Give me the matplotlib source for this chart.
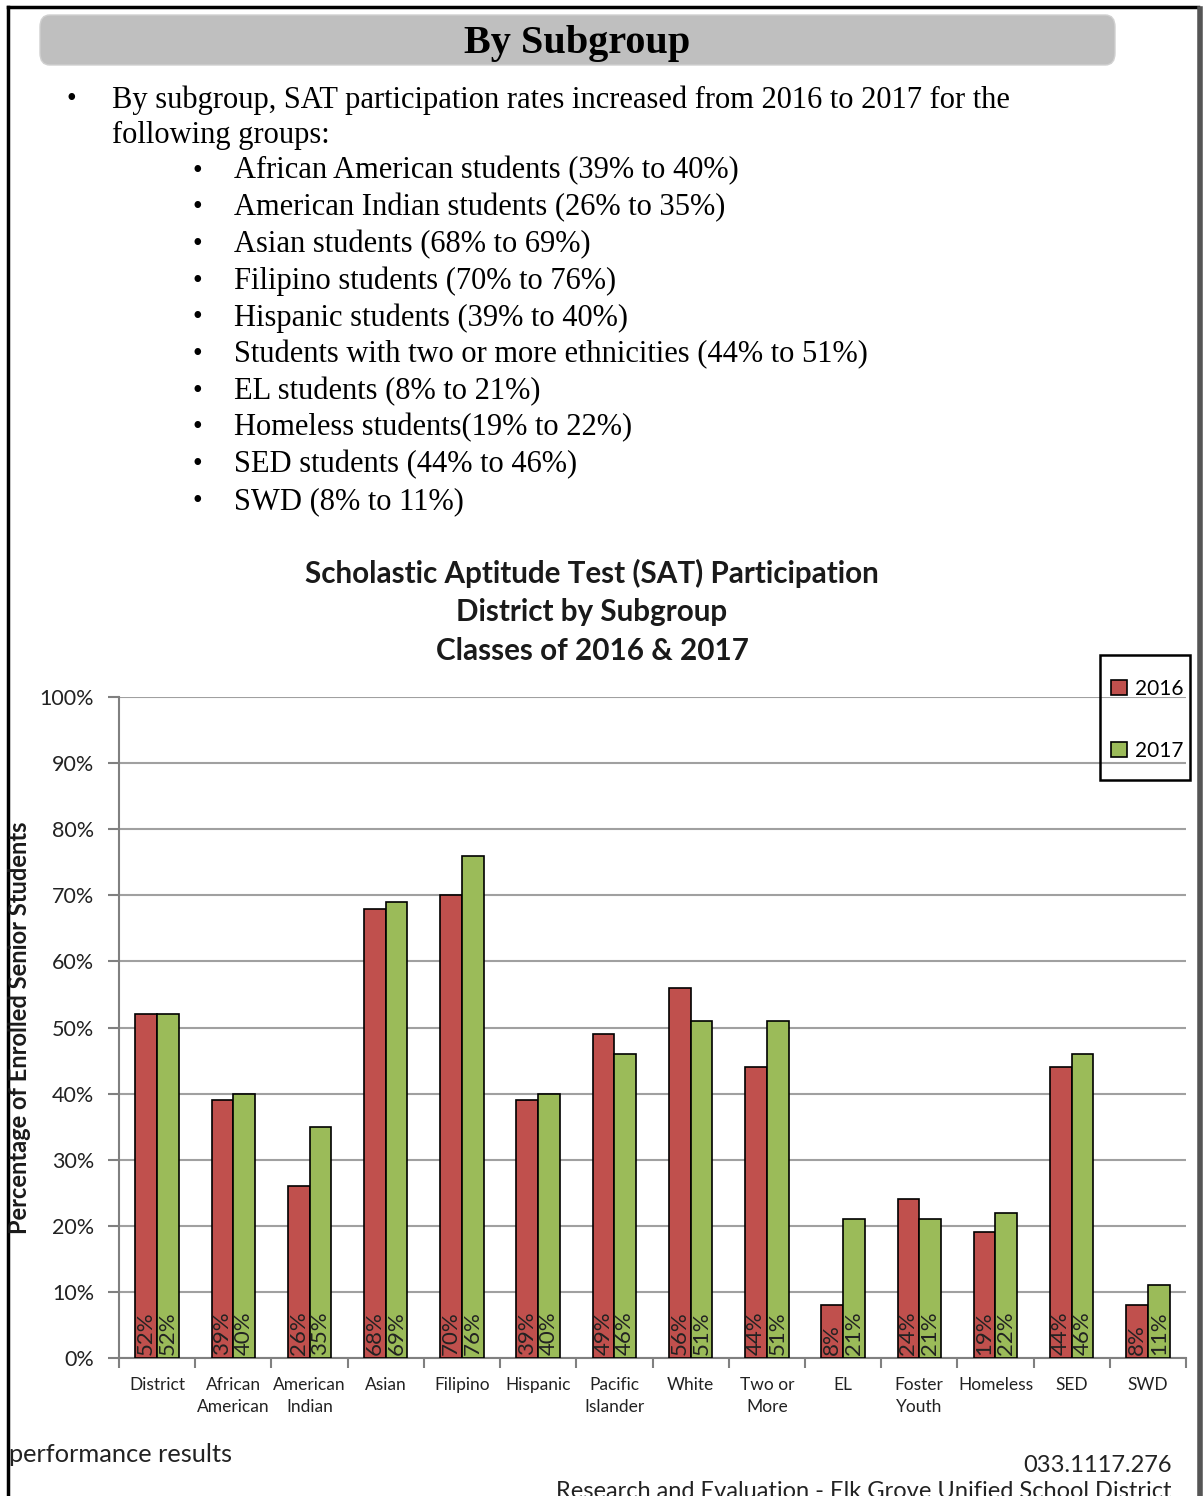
import matplotlib
matplotlib.use("Agg")
import matplotlib.pyplot as plt
from matplotlib.patches import FancyBboxPatch, Rectangle
from matplotlib.lines import Line2D
import numpy as np

W, H = 1204, 1496

categories = ["District", "African\nAmerican", "American\nIndian", "Asian", "Filipino",
              "Hispanic", "Pacific\nIslander", "White", "Two or\nMore", "EL",
              "Foster\nYouth", "Homeless", "SED", "SWD"]
rate_2016 = [52, 39, 26, 68, 70, 39, 49, 56, 44, 8, 24, 19, 44, 8]
rate_2017 = [52, 40, 35, 69, 76, 40, 46, 51, 51, 21, 21, 22, 46, 11]
years = ["2016", "2017"]

intro = ["By subgroup, SAT participation rates increased from 2016 to 2017 for the",
         "following groups:"]
bullets = ["African American students (39% to 40%)",
           "American Indian students (26% to 35%)",
           "Asian students (68% to 69%)",
           "Filipino students (70% to 76%)",
           "Hispanic students (39% to 40%)",
           "Students with two or more ethnicities (44% to 51%)",
           "EL students (8% to 21%)",
           "Homeless students(19% to 22%)",
           "SED students (44% to 46%)",
           "SWD (8% to 11%)"]
chart_title = ["Scholastic Aptitude Test (SAT) Participation",
               "District by Subgroup",
               "Classes of 2016 & 2017"]

red = "#C0504D"
green = "#9BBB59"
serif = "Liberation Serif"
sans = "Lato"


def px(x, y):
    # pixel position on the page -> figure fraction
    return x / W, 1 - y / H


fig = plt.figure(figsize=(W / 100, H / 100), dpi=100)

# page border
fig.add_artist(Line2D([8 / W, 8 / W], [0, 1 - 7 / H], color="black", lw=2.5))
fig.add_artist(Line2D([8 / W, 1198 / W], [1 - 7 / H, 1 - 7 / H], color="black", lw=2.5))
fig.add_artist(Line2D([1200 / W, 1200 / W], [0, 1 - 9 / H], color="#555555", lw=4))

# header box
box = FancyBboxPatch(px(40, 65), (1115 - 40) / W, 50 / H,
                     boxstyle="round,pad=0,rounding_size=0.008",
                     transform=fig.transFigure, facecolor="#BFBFBF",
                     edgecolor="#D0D0D0", lw=1)
fig.add_artist(box)
fig.text(*px(577, 43), "By Subgroup", family=serif, weight="bold", fontsize=29,
         ha="center", va="center")

# bullet text
fig.text(*px(67, 100), "\u2022", family=serif, fontsize=20, ha="left", va="center")
for i, line in enumerate(intro):
    fig.text(*px(112, 100 + i * 35), line, family=serif, fontsize=22,
             ha="left", va="center")
for i, line in enumerate(bullets):
    y = 171 + i * 36.7
    fig.text(*px(192, y), "\u2022", family=serif, fontsize=20, ha="left", va="center")
    fig.text(*px(234, y), line, family=serif, fontsize=22, ha="left", va="center")

# chart title
for i, line in enumerate(chart_title):
    fig.text(*px(592, 573 + i * 39), line, family=sans, weight="bold", fontsize=21.3,
             ha="center", va="center", color="#1a1a1a")

# chart
ax = fig.add_axes([119 / W, 1 - 1358 / H, (1186 - 119) / W, (1358 - 697) / H])
x = np.arange(len(categories))
bw = 0.285
b1 = ax.bar(x - bw / 2, rate_2016, bw, color=red, edgecolor="black", lw=1.2,
            label=years[0], zorder=3)
b2 = ax.bar(x + bw / 2, rate_2017, bw, color=green, edgecolor="black", lw=1.2,
            label=years[1], zorder=3)
for bars, vals in ((b1, rate_2016), (b2, rate_2017)):
    for r, v in zip(bars, vals):
        ax.text(r.get_x() + r.get_width() / 2, 0.5, f"{v}%", rotation=90,
                ha="center", va="bottom", family=sans, fontsize=16,
                color="#222222", zorder=4)

ax.set_xlim(-0.5, len(categories) - 0.5)
ax.set_ylim(0, 100)
ax.set_yticks(np.arange(0, 101, 10))
ax.set_yticklabels([f"{v}%" for v in range(0, 101, 10)], family=sans, fontsize=15.5,
                   color="#222222")
ax.set_xticks(x)
ax.set_xticklabels(categories, family=sans, fontsize=12.5, color="#222222",
                   linespacing=1.45)
ax.set_xticks(np.arange(-0.5, len(categories), 1), minor=True)
ax.tick_params(axis="x", which="major", length=0, pad=14)
ax.tick_params(axis="x", which="minor", length=7, width=1.5, color="#808080")
ax.tick_params(axis="y", length=8, width=1.5, color="#808080", pad=10)
ax.grid(axis="y", color="#A0A0A0", lw=1.5, zorder=0)
for s in ("top", "right"):
    ax.spines[s].set_visible(False)
for s in ("left", "bottom"):
    ax.spines[s].set_color("#808080")
    ax.spines[s].set_linewidth(1.5)

fig.text(*px(20, 1028), "Percentage of Enrolled Senior Students", family=sans,
         weight="bold", fontsize=17, rotation=90, ha="center", va="center",
         color="#1a1a1a")

# legend: entries from the library, frame drawn to the reference box size
leg = fig.legend(handles=[b1, b2], labels=years, loc="upper left",
                 bbox_to_anchor=px(1111, 679), prop={"family": sans, "size": 15},
                 frameon=False, handlelength=0.75, handleheight=0.75,
                 handletextpad=0.4, labelspacing=2.0, borderpad=0, borderaxespad=0)
fig.add_artist(Rectangle(px(1100, 780), 90 / W, 125 / H, transform=fig.transFigure,
                         facecolor="none", edgecolor="black", lw=1.8))

# footer
fig.text(*px(9, 1455), "performance results", family=sans, fontsize=18.3,
         ha="left", va="center", color="#222222")
fig.text(*px(1172, 1465), "033.1117.276", family=sans, fontsize=17,
         ha="right", va="center", color="#222222")
fig.text(*px(1172, 1491), "Research and Evaluation - Elk Grove Unified School District",
         family=sans, fontsize=17, ha="right", va="center", color="#222222")

fig.savefig("out.png", dpi=100)
